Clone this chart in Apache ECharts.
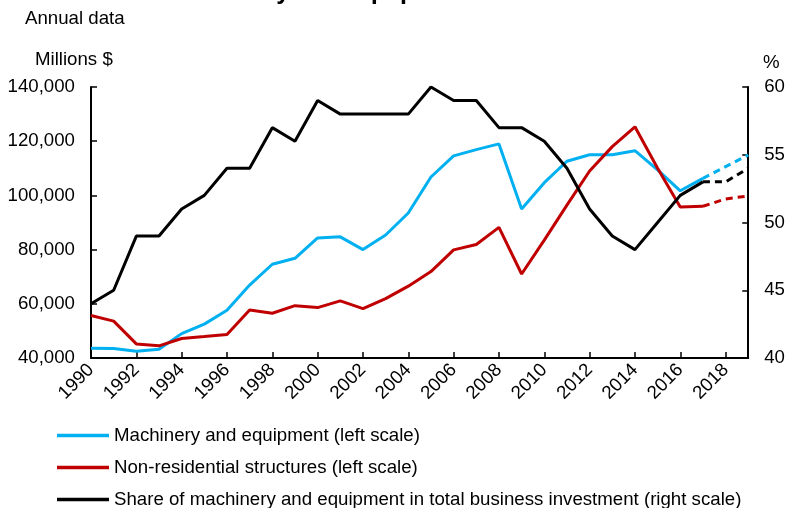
<!DOCTYPE html>
<html>
<head>
<meta charset="utf-8">
<script src="https://cdn.jsdelivr.net/npm/echarts@6/dist/echarts.min.js"></script>
<style>
html,body{margin:0;padding:0;background:#fff;}
#chart{width:788px;height:508px;}
</style>
</head>
<body>
<div id="chart"></div>
<script>
var years = ['1990','1991','1992','1993','1994','1995','1996','1997','1998','1999','2000','2001','2002','2003','2004','2005','2006','2007','2008','2009','2010','2011','2012','2013','2014','2015','2016','2017','2018','2019'];
var machinery = [43600,43500,42500,43200,49000,52500,57600,66900,74600,76800,84300,84700,80000,85400,93500,106800,114600,116900,119000,95000,104700,112600,115000,115000,116500,109400,101700,106300,110600,114900];
var structures = [55700,53600,45200,44500,47200,47900,48700,57700,56500,59300,58600,61100,58200,61900,66500,71900,79900,81900,88200,71000,83500,96400,109000,118000,125300,110000,95700,96000,98700,99800];
var share = [44,45,49,49,51,52,54,54,57,56,59,58,58,58,58,60,59,59,57,57,56,54,51,49,48,50,52,53,53,54];
var forecastFrom = '2017';
var seriesNames = ['Machinery and equipment (left scale)','Non-residential structures (left scale)','Share of machinery and equipment in total business investment (right scale)'];
var titleText = 'Investment in machinery and equipment';

var cut = years.indexOf(forecastFrom);
function solidPart(arr){ return arr.map(function(v,i){ return i<=cut ? v : null; }); }
function dashPart(arr){ return arr.map(function(v,i){ return i>=cut ? v : null; }); }

var FONT = "'Liberation Sans', Arial, sans-serif";
var FS = 18.67;
var colors = ['#00B0F0','#C00000','#000000'];
var chart = echarts.init(document.getElementById('chart'));

function mk(name, data, color, yIdx, dashed){
  return {
    name: name, type: 'line', data: data, yAxisIndex: yIdx,
    showSymbol: false, symbol: 'none', connectNulls: false,
    lineStyle: {color: color, width: 3, type: dashed ? [7,5] : 'solid'},
    itemStyle: {color: color},
    emphasis: {disabled: true}, animation: false
  };
}

chart.setOption({
  animation: false,
  backgroundColor: '#ffffff',
  title: {
    text: titleText, left: -3, top: -20, padding: 0,
    textStyle: {fontFamily: FONT, fontSize: 25, fontWeight: 'bold', color: '#000'}
  },
  graphic: [
    {type: 'text', left: 25, top: 9, style: {text: 'Annual data', font: FS + 'px ' + FONT, fill: '#000'}},
    {type: 'text', left: 35, top: 50, style: {text: 'Millions $', font: FS + 'px ' + FONT, fill: '#000'}},
    {type: 'text', left: 763, top: 53, style: {text: '%', font: FS + 'px ' + FONT, fill: '#000'}}
  ],
  legend: {
    data: seriesNames,
    orient: 'vertical', left: 57, top: 426, height: 120, padding: 0,
    icon: 'rect', itemWidth: 52, itemHeight: 3.5, itemGap: 13,
    selectedMode: false,
    textStyle: {fontFamily: FONT, fontSize: FS, lineHeight: 18, color: '#000'}
  },
  grid: {left: 91, right: 39, top: 87, bottom: 150, containLabel: false},
  xAxis: {
    type: 'category', data: years, boundaryGap: false,
    axisLine: {show: true, lineStyle: {color: '#000', width: 2}},
    axisTick: {show: true, inside: true, length: 6, interval: 1, lineStyle: {color: '#000', width: 1.5}},
    axisLabel: {interval: 1, rotate: 45, margin: 9, fontFamily: FONT, fontSize: FS, color: '#000'},
    splitLine: {show: false}
  },
  yAxis: [
    {
      type: 'value', min: 40000, max: 140000, interval: 20000, position: 'left',
      axisLine: {show: true, lineStyle: {color: '#000', width: 2}},
      axisTick: {show: true, inside: true, length: 6, lineStyle: {color: '#000', width: 1.5}},
      axisLabel: {margin: 16, fontFamily: FONT, fontSize: FS, color: '#000',
        formatter: function(v){ return v.toLocaleString('en-US'); }},
      splitLine: {show: false}
    },
    {
      type: 'value', min: 40, max: 60, interval: 5, position: 'right',
      axisLine: {show: true, lineStyle: {color: '#000', width: 2}},
      axisTick: {show: true, inside: true, length: 6, lineStyle: {color: '#000', width: 1.5}},
      axisLabel: {margin: 16, fontFamily: FONT, fontSize: FS, color: '#000'},
      splitLine: {show: false}
    }
  ],
  series: [
    mk(seriesNames[0], solidPart(machinery), colors[0], 0, false),
    mk(seriesNames[1], solidPart(structures), colors[1], 0, false),
    mk(seriesNames[2], solidPart(share), colors[2], 1, false),
    mk('Machinery and equipment (projection)', dashPart(machinery), colors[0], 0, true),
    mk('Non-residential structures (projection)', dashPart(structures), colors[1], 0, true),
    mk('Share (projection)', dashPart(share), colors[2], 1, true)
  ]
});
</script>
</body>
</html>
